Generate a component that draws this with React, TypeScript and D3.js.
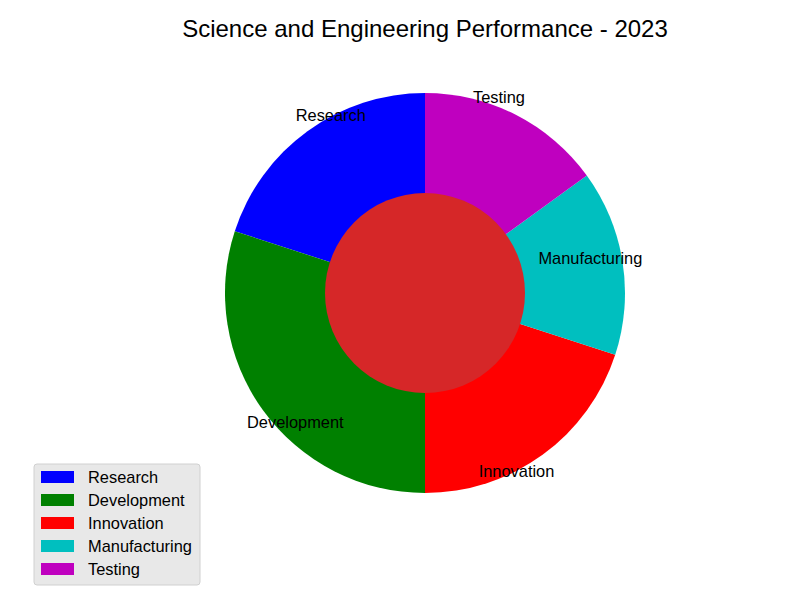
import React, { useEffect, useRef } from "react";
import * as d3 from "d3";

const categories = ["Research", "Development", "Innovation", "Manufacturing", "Testing"];
const shares = [20, 30, 20, 15, 15];
const colors = ["#0000ff", "#008000", "#ff0000", "#00bfbf", "#bf00bf"];
const title = "Science and Engineering Performance - 2023";

const App = () => {
  const ref = useRef<SVGSVGElement>(null);

  useEffect(() => {
    if (!ref.current) return;
    const width = 800;
    const height = 600;
    const cx = 425;
    const cy = 293;
    const radius = 200;

    const svg = d3.select(ref.current);
    svg.selectAll("*").remove();
    svg.style("font-family", "'Liberation Sans', Arial, sans-serif");

    svg.append("rect").attr("width", width).attr("height", height).attr("fill", "#fff");

    svg
      .append("text")
      .attr("x", cx)
      .attr("y", 37)
      .attr("text-anchor", "middle")
      .attr("font-size", 24)
      .text(title);

    // matplotlib style: start at 90deg, counter-clockwise
    const pie = d3
      .pie<number>()
      .sort(null)
      .startAngle(0)
      .endAngle(-2 * Math.PI);
    const arcs = pie(shares);

    const arc = d3.arc<d3.PieArcDatum<number>>().innerRadius(0).outerRadius(radius);

    const g = svg.append("g").attr("transform", `translate(${cx},${cy})`);

    g.selectAll("path.slice")
      .data(arcs)
      .join("path")
      .attr("class", "slice")
      .attr("d", arc)
      .attr("fill", (_, i) => colors[i]);

    g.append("circle").attr("r", radius / 2).attr("fill", "#d62728");

    g.selectAll("text.lbl")
      .data(arcs)
      .join("text")
      .attr("class", "lbl")
      .each(function (d, i) {
        const mid = (d.startAngle + d.endAngle) / 2;
        const x = Math.sin(mid) * radius * 1.1;
        const y = -Math.cos(mid) * radius * 1.1;
        d3.select(this)
          .attr("x", x)
          .attr("y", y)
          .attr("dy", "0.35em")
          .attr("text-anchor", x > 0 ? "end" : "start")
          .attr("font-size", 16.4)
          .text(categories[i]);
      });

    // legend
    const lg = svg.append("g").attr("transform", "translate(34,464)");
    lg.append("rect")
      .attr("width", 166)
      .attr("height", 121)
      .attr("rx", 3)
      .attr("fill", "#e8e8e8")
      .attr("stroke", "#d0d0d0");
    const rows = lg
      .selectAll("g.row")
      .data(categories)
      .join("g")
      .attr("class", "row")
      .attr("transform", (_, i) => `translate(0,${13 + i * 23})`);
    rows
      .append("rect")
      .attr("x", 7)
      .attr("y", -6)
      .attr("width", 33)
      .attr("height", 12)
      .attr("fill", (_, i) => colors[i]);
    rows
      .append("text")
      .attr("x", 54)
      .attr("dy", "0.35em")
      .attr("font-size", 16.4)
      .text((d) => d);
  }, []);

  return <svg ref={ref} width={800} height={600} style={{ display: "block", margin: -8 }} />;
};

export default App;
